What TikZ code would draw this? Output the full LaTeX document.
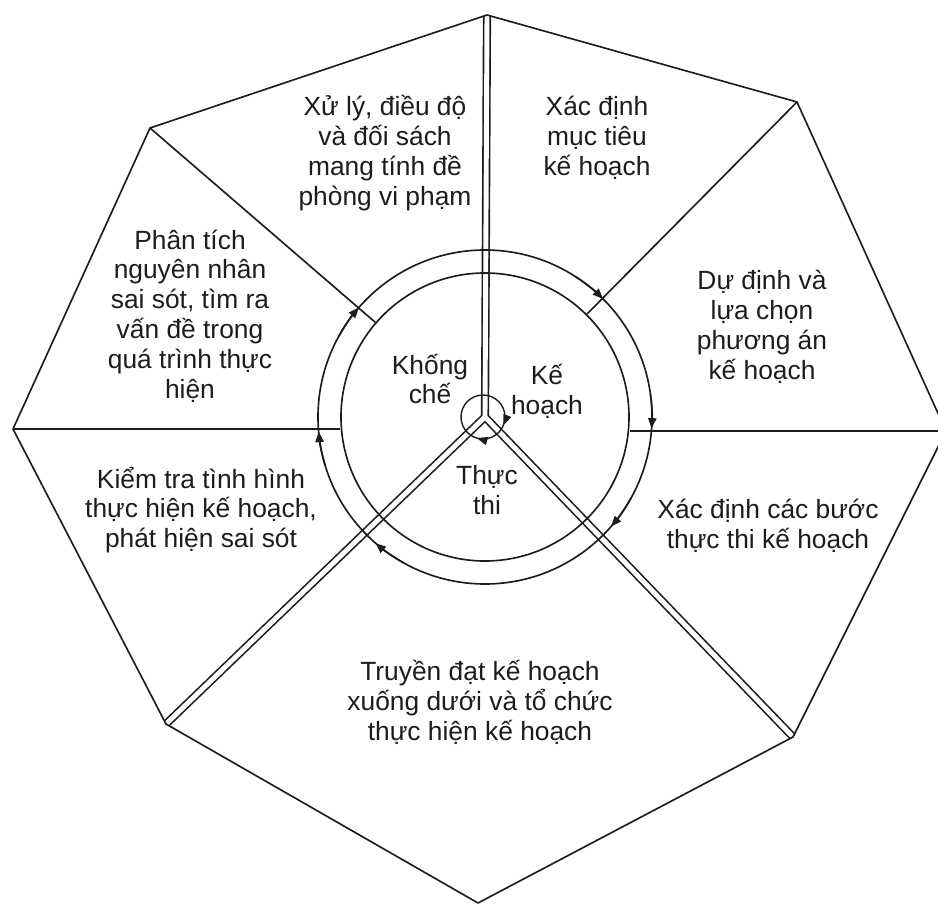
\documentclass[tikz,border=0pt]{standalone}
\usepackage{fontspec}
\setmainfont{Liberation Sans}
\usetikzlibrary{calc,arrows.meta}
\definecolor{Ink}{HTML}{1C1C1C}
\newcommand\lblfont{\fontsize{22.5}{25.5}\selectfont\lineskiplimit=-30pt\relax}

\begin{document}
\begin{tikzpicture}[x=0.03cm,y=-0.03cm,
  lbl/.style={align=center,font=\lblfont,text=Ink,inner sep=0pt},
  edge/.style={Ink,line width=1.4pt,line join=round},
  spokeout/.style={Ink,line width=7pt,line cap=round,line join=round},
  spokein/.style={white,line width=4.2pt,line cap=round,line join=round},
  tip/.style={Ink,line width=1.4pt,-{Triangle[length=9pt,width=7pt]}}]
\useasboundingbox (0,0) rectangle (938,904);
\coordinate (c) at (485,417);
\coordinate (top) at (487,15);
\coordinate (ur) at (797,102);
\coordinate (rt) at (946,431);
\coordinate (lr) at (793,737);
\coordinate (bot) at (478,903);
\coordinate (ll) at (166,724);
\coordinate (lt) at (13,429);
\coordinate (ul) at (150,128);
\begin{scope}
\clip (top)--(ur)--(rt)--(lr)--(bot)--(ll)--(lt)--(ul)--cycle;
\draw[spokeout] (top)--(c) (ll)--(c) (lr)--(c);
\draw[spokein] (top)--(c) (ll)--(c) (lr)--(c);
\end{scope}
\draw[edge] (top)--(ur)--(rt)--(lr)--(bot)--(ll)--(lt)--(ul)--cycle;
\draw[edge] (c) circle[radius=167];
\node[circle,draw=Ink,line width=1.4pt,minimum size=8.64cm,inner sep=0pt] (inner) at (c) {};
\draw[edge] (ul)--(inner);
\draw[edge] (ur)--(inner);
\draw[edge] (lt)--(lt-|inner.west);
\draw[edge] (rt)--(rt-|inner.east);
\foreach \a in {-139,-45,4,41,131,175}
  \draw[tip] (c) ++(\a-12:167) arc[start angle=\a-12,end angle=\a,radius=167];
\node[circle,draw=Ink,line width=1.2pt,minimum size=1.32cm,inner sep=0pt] (hub) at (483,417) {};
\foreach \a in {22,106}
  \draw[tip] (hub.center) ++(\a-25:22) arc[start angle=\a-25,end angle=\a,radius=22];
\node[lbl] (xuly) at (385,153) {Xử lý, điều độ\\và đối sách\\mang tính đề\\phòng vi phạm};
\node[lbl] (muctieu) at (597,138) {Xác định\\mục tiêu\\kế hoạch};
\node[lbl] (phuongan) at (762,327) {Dự định và\\lựa chọn\\phương án\\kế hoạch};
\node[lbl] (phantich) at (190,316) {Phân tích\\nguyên nhân\\sai sót, tìm ra\\vấn đề trong\\quá trình thực\\hiện};
\node[lbl] (kiemtra) at (201,510) {Kiểm tra tình hình\\thực hiện kế hoạch,\\phát hiện sai sót};
\node[lbl] (cacbuoc) at (768,526) {Xác định các bước\\thực thi kế hoạch};
\node[lbl] (truyendat) at (480,702) {Truyền đạt kế hoạch\\xuống dưới và tổ chức\\thực hiện kế hoạch};
\node[lbl] (khongche) at (430,379) {Khống\\chế};
\node[lbl] (kehoach) at (547,391) {Kế\\hoạch};
\node[lbl] (thucthi) at (487,490) {Thực\\thi};
\end{tikzpicture}
\end{document}
